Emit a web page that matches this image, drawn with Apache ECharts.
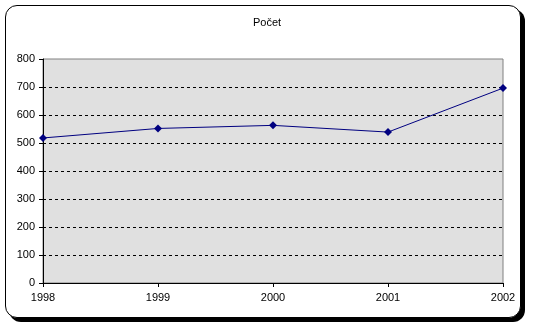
<!DOCTYPE html>
<html>
<head>
<meta charset="utf-8">
<script src="https://cdn.jsdelivr.net/npm/echarts@6/dist/echarts.min.js"></script>
<style>
  body { margin: 0; background: #fff; }
  #frame {
    position: absolute; left: 5px; top: 5px;
    width: 514px; height: 311px;
    border: 1px solid #000; border-radius: 12px;
    box-shadow: 4px 4px 0 #000;
    background: #fff;
  }
  #main { position: absolute; left: 0; top: 0; width: 534px; height: 326px; }
</style>
</head>
<body>
<div id="frame"></div>
<div id="main"></div>
<script>
// data
var years = ['1998', '1999', '2000', '2001', '2002'];
var pocet = [518, 552, 563, 539, 696];
var yTicks = [0, 100, 200, 300, 400, 500, 600, 700, 800];

var font = 'Arial, "Liberation Sans", sans-serif';

// grid lines: black dashed, none at 0 and at the top (plot border is there)
var lineColors = yTicks.map(function (v, i) {
  return (i === 0 || i === yTicks.length - 1) ? 'rgba(0,0,0,0)' : '#000';
});

var chart = echarts.init(document.getElementById('main'), null, { renderer: 'canvas' });

var option = {
  animation: false,
  title: {
    text: 'Počet',
    left: 'center',
    top: 12,
    textStyle: { fontFamily: font, fontSize: 11, fontWeight: 'normal', color: '#000' }
  },
  grid: {
    left: 43, right: 31, top: 59, bottom: 43,
    show: true,
    backgroundColor: '#e0e0e0',
    borderColor: '#808080',
    borderWidth: 1
  },
  xAxis: {
    type: 'category',
    data: years,
    boundaryGap: false,
    axisLine: { lineStyle: { color: '#000', width: 1 } },
    axisTick: { show: true, length: 4, lineStyle: { color: '#000' } },
    axisLabel: { fontFamily: font, fontSize: 11, color: '#000', margin: 9 }
  },
  yAxis: {
    type: 'value',
    min: yTicks[0],
    max: yTicks[yTicks.length - 1],
    interval: 100,
    axisLine: { show: true, lineStyle: { color: '#000', width: 1 } },
    axisTick: { show: true, length: 4, lineStyle: { color: '#000' } },
    axisLabel: { fontFamily: font, fontSize: 11, color: '#000', margin: 8 },
    splitLine: { show: true, lineStyle: { color: lineColors, type: [3, 3], width: 1 } }
  },
  series: [{
    name: 'Počet',
    type: 'line',
    data: pocet,
    symbol: 'diamond',
    symbolSize: 8,
    lineStyle: { color: '#000080', width: 1 },
    itemStyle: { color: '#000080' }
  }]
};

chart.setOption(option);
</script>
</body>
</html>
